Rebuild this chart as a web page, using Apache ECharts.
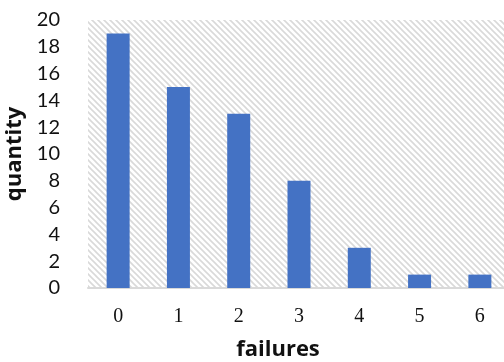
<!DOCTYPE html>
<html>
<head>
<meta charset="utf-8">
<script src="https://cdn.jsdelivr.net/npm/echarts@6/dist/echarts.min.js"></script>
<style>
  html, body { margin: 0; padding: 0; background: #fff; }
  #chart { width: 504px; height: 362px; }
</style>
</head>
<body>
<div id="chart"></div>
<script>
// Number of failures per unit and how many units showed each count
const categories = ['0', '1', '2', '3', '4', '5', '6'];
const quantities = [19, 15, 13, 8, 3, 1, 1];
const yTicks = { min: 0, max: 20, interval: 2 };

// Light downward-diagonal hatch for the plot background
function hatchTile() {
  const size = 6;
  const c = document.createElement('canvas');
  c.width = size; c.height = size;
  const ctx = c.getContext('2d');
  ctx.strokeStyle = '#d9d9d9';
  ctx.lineWidth = 1.6;
  ctx.beginPath();
  ctx.moveTo(-1, -1); ctx.lineTo(size + 1, size + 1);
  ctx.moveTo(-1, size - 1); ctx.lineTo(1, size + 1);
  ctx.moveTo(size - 1, -1); ctx.lineTo(size + 1, 1);
  ctx.stroke();
  return c;
}

const chart = echarts.init(document.getElementById('chart'), null, { renderer: 'canvas' });
chart.setOption({
  animation: false,
  grid: {
    left: 88, top: 20, bottom: 74, width: 422,
    containLabel: false,
    outerBoundsMode: 'none',
    show: true,
    borderWidth: 0,
    backgroundColor: { image: hatchTile(), repeat: 'repeat' }
  },
  xAxis: {
    type: 'category',
    data: categories,
    name: 'failures',
    nameLocation: 'middle',
    nameGap: 51,
    nameTextStyle: {
      fontFamily: 'Open Sans', fontWeight: 'bold', fontSize: 22, color: '#111',
      padding: [0, 42, 0, 0]
    },
    axisLine: { lineStyle: { color: '#d9d9d9', width: 2 } },
    axisTick: { show: false },
    axisLabel: { fontFamily: 'Liberation Serif', fontSize: 20, color: '#111', margin: 19 }
  },
  yAxis: {
    type: 'value',
    min: yTicks.min, max: yTicks.max, interval: yTicks.interval,
    name: 'quantity',
    nameLocation: 'middle',
    nameGap: 59,
    nameRotate: 90,
    nameTextStyle: { fontFamily: 'Open Sans', fontWeight: 'bold', fontSize: 22, color: '#111' },
    axisLine: { show: false },
    axisTick: { show: false },
    splitLine: { show: false },
    axisLabel: { fontFamily: 'Lato', fontSize: 20, color: '#111', margin: 28 }
  },
  series: [{
    type: 'bar',
    data: quantities,
    barWidth: 23,
    itemStyle: { color: '#4472c4' }
  }]
});
</script>
</body>
</html>
